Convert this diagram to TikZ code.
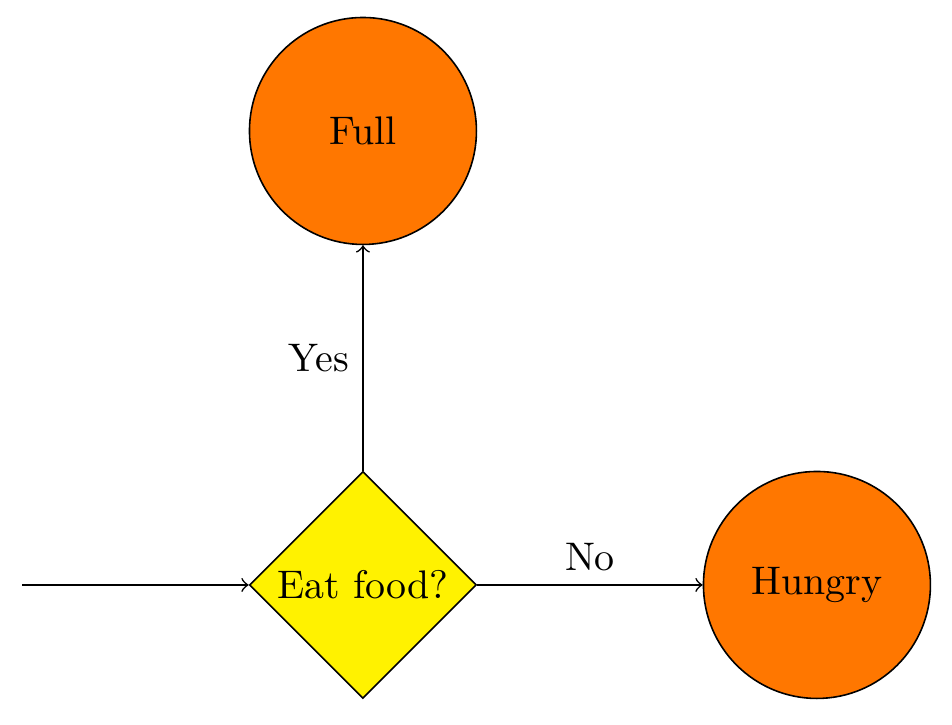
\documentclass[tikz,border=0pt]{standalone}
\usepackage{tikz}
\usetikzlibrary{shapes.geometric, arrows}
\definecolor{stateorange}{RGB}{255,119,0}
\tikzstyle{decision} = [diamond, aspect=1, inner sep=0pt, minimum width=2cm, minimum height=2cm, text centered, draw=black, fill=yellow]
\tikzstyle{outcome} = [circle, minimum size=2cm, text centered, draw=black, fill=stateorange]
\tikzstyle{arrow} = [->,>=to]

\begin{document}
\begin{tikzpicture}[node distance=4cm]
\useasboundingbox (-3.198,-1.233) rectangle (5.19,5.154);
\node (eat) [decision] {Eat food?};
\node (full) [outcome, above of=eat] {Full};
\node (hungry) [outcome, right of=eat] {Hungry};
\coordinate (start) at (-3,0);
\draw [arrow] (start) -- (eat);
\draw [arrow] (eat) -- node[left] {Yes} (full);
\draw [arrow] (eat) -- node[above] {No} (hungry);
\end{tikzpicture}
\end{document}
